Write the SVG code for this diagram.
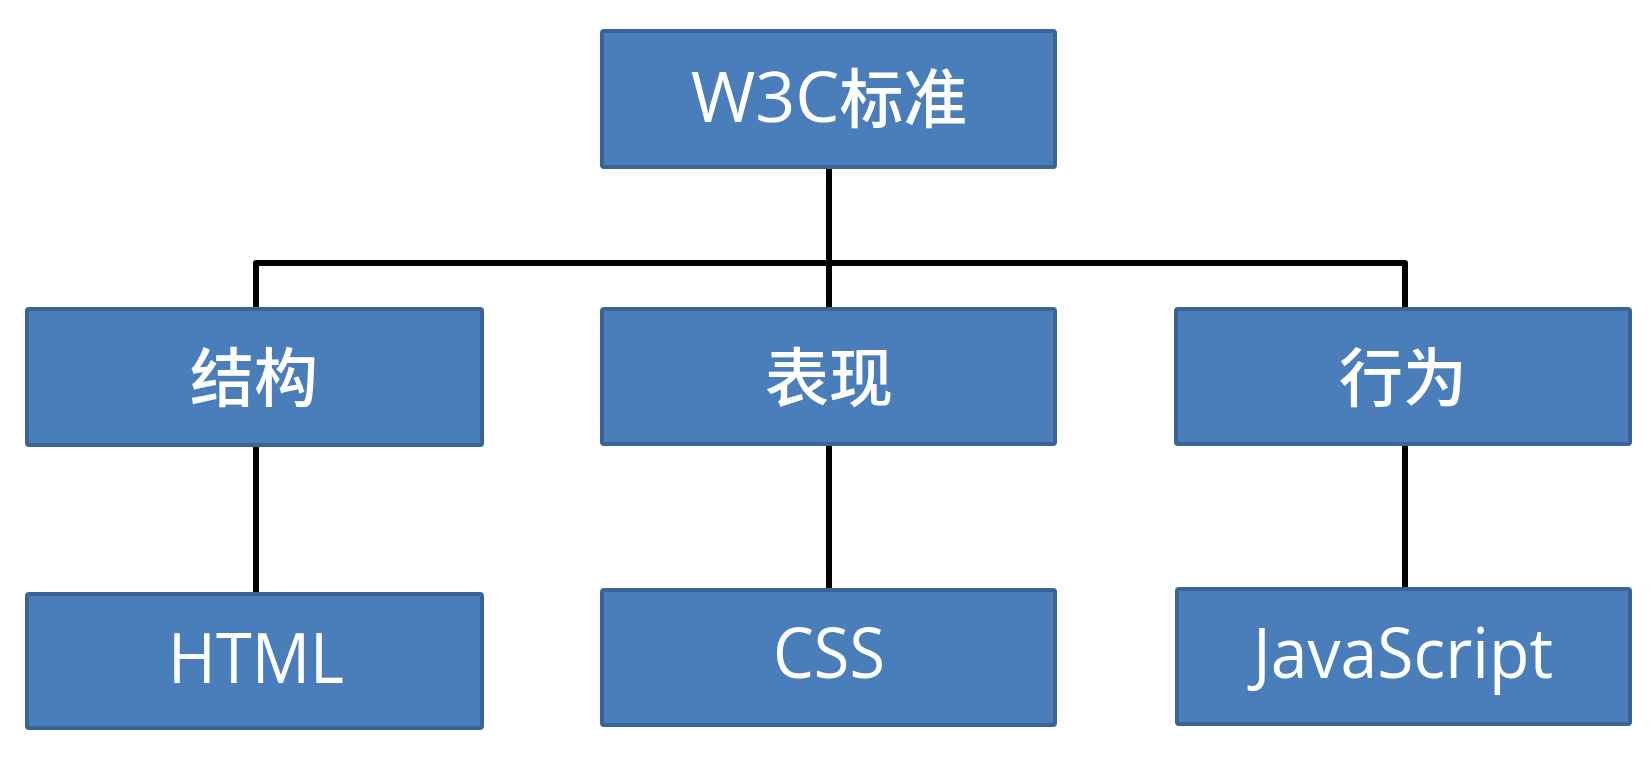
<svg xmlns="http://www.w3.org/2000/svg" width="1651" height="774" viewBox="0 0 1651 774">
<style>
.box{fill:#4a7ebb;stroke:#3a6396;stroke-width:4}
.lbl{fill:#ffffff;font-family:"Open Sans","Noto Sans","Noto Sans CJK SC",sans-serif;font-size:70px;text-anchor:middle}
.cjk{font-family:"Noto Sans CJK SC",sans-serif;font-size:64px;font-weight:500}
.con{fill:none;stroke:#000000;stroke-width:6;stroke-linejoin:round}
</style>
<rect width="1651" height="774" fill="#ffffff"/>
<g id="connectors">
<path class="con" d="M829,169 V307"/>
<path class="con" d="M256,307 V263 H1405 V307"/>
<path class="con" d="M256,447 V592"/>
<path class="con" d="M829,446 V588"/>
<path class="con" d="M1405,446 V587"/>
</g>
<g id="w3c">
<rect class="box" x="602" y="31" width="453" height="136" rx="2"/>
<text class="lbl" x="829" y="122">W3C<tspan class="cjk" font-size="66">标准</tspan></text>
</g>
<g id="structure">
<rect class="box" x="27" y="309" width="455" height="136" rx="2"/>
<text class="lbl cjk" x="254" y="401">结构</text>
</g>
<g id="presentation">
<rect class="box" x="602" y="309" width="453" height="135" rx="2"/>
<text class="lbl cjk" x="829" y="401">表现</text>
</g>
<g id="behavior">
<rect class="box" x="1176" y="309" width="454" height="135" rx="2"/>
<text class="lbl cjk" x="1403" y="401">行为</text>
</g>
<g id="html">
<rect class="box" x="27" y="594" width="455" height="134" rx="2"/>
<text class="lbl" x="256" y="683" textLength="176" lengthAdjust="spacingAndGlyphs">HTML</text>
</g>
<g id="css">
<rect class="box" x="602" y="590" width="453" height="135" rx="2"/>
<text class="lbl" x="829" y="678" textLength="112" lengthAdjust="spacingAndGlyphs">CSS</text>
</g>
<g id="javascript">
<rect class="box" x="1177" y="589" width="453" height="135" rx="2"/>
<text class="lbl" x="1403" y="678" textLength="300" lengthAdjust="spacingAndGlyphs">JavaScript</text>
</g>
</svg>
